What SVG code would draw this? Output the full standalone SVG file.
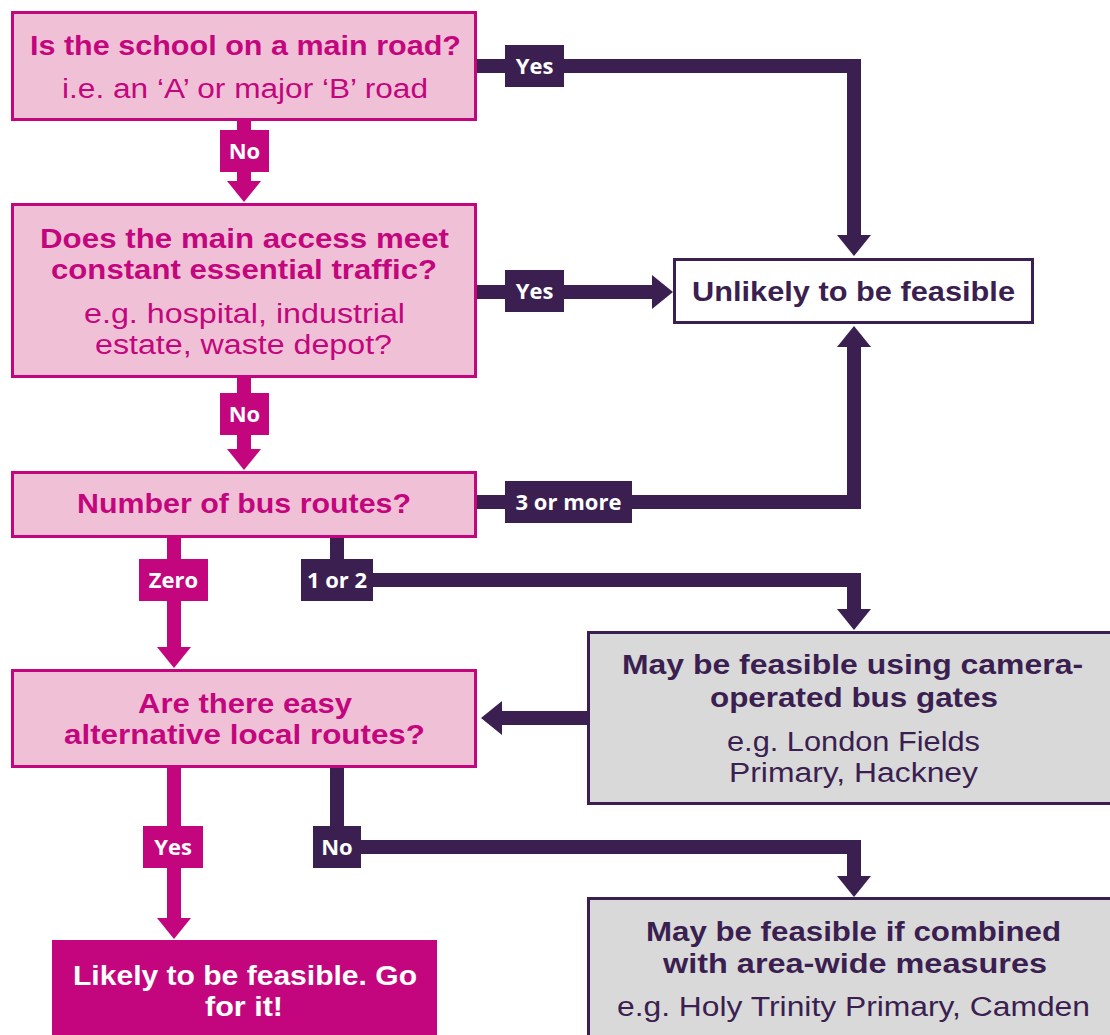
<svg xmlns="http://www.w3.org/2000/svg" width="1110" height="1035" viewBox="0 0 1110 1035">
<defs>
<style>
.q{fill:#f0c1d6;stroke:#c4067e;stroke-width:3}
.g{fill:#d9d9d9;stroke:#3a1f50;stroke-width:3}
.w{fill:#ffffff;stroke:#3a1f50;stroke-width:3}
.t{font-family:"Liberation Sans",Arial,sans-serif;text-anchor:middle;font-size:27px;font-weight:700}
.r{font-weight:400}
.m{fill:#c4067e}
.p{fill:#3a1f50}
.wt{fill:#ffffff}
.lm{stroke:#c4067e;stroke-width:14;fill:none}
.lp{stroke:#3a1f50;stroke-width:14;fill:none}
.lbl{font-family:"Open Sans","Liberation Sans",sans-serif;font-weight:700;font-size:22px;fill:#ffffff;text-anchor:middle}
</style>
<marker id="am" markerUnits="userSpaceOnUse" markerWidth="22" markerHeight="36" viewBox="0 -18 22 36" refX="0" refY="0" orient="auto"><path d="M0,-17 L21,0 L0,17 z" fill="#c4067e"/></marker>
<marker id="ap" markerUnits="userSpaceOnUse" markerWidth="22" markerHeight="36" viewBox="0 -18 22 36" refX="0" refY="0" orient="auto"><path d="M0,-17 L21,0 L0,17 z" fill="#3a1f50"/></marker>
</defs>
<rect width="1110" height="1035" fill="#ffffff"/>
<g id="connectors">
<path class="lp" d="M477,66 H854 V235" marker-end="url(#ap)"/>
<path class="lp" d="M477,292 H652" marker-end="url(#ap)"/>
<path class="lm" d="M244,121 V181" marker-end="url(#am)"/>
<path class="lm" d="M244,378 V449" marker-end="url(#am)"/>
<path class="lp" d="M477,502 H854 V347" marker-end="url(#ap)"/>
<path class="lm" d="M174,537 V647" marker-end="url(#am)"/>
<path class="lp" d="M337,537 V580 H854 V609" marker-end="url(#ap)"/>
<path class="lp" d="M588,718 H502" marker-end="url(#ap)"/>
<path class="lm" d="M174,768 V918" marker-end="url(#am)"/>
<path class="lp" d="M337,768 V847 H854 V876" marker-end="url(#ap)"/>
<rect x="505" y="45" width="59" height="42" class="p"/><text x="534.5" y="74" class="lbl">Yes</text>
<rect x="505" y="270" width="59" height="42" class="p"/><text x="534.5" y="299" class="lbl">Yes</text>
<rect x="220" y="130" width="49" height="42" class="m"/><text x="244.5" y="159" class="lbl">No</text>
<rect x="220" y="393" width="49" height="42" class="m"/><text x="244.5" y="422" class="lbl">No</text>
<rect x="505" y="481" width="127" height="42" class="p"/><text x="568.5" y="510" class="lbl">3 or more</text>
<rect x="139" y="559" width="69" height="42" class="m"/><text x="173.5" y="588" class="lbl">Zero</text>
<rect x="301" y="559" width="72" height="42" class="p"/><text x="337" y="588" class="lbl">1 or 2</text>
<rect x="143" y="826" width="60" height="42" class="m"/><text x="173" y="855" class="lbl">Yes</text>
<rect x="313" y="826" width="48" height="42" class="p"/><text x="337" y="855" class="lbl">No</text>
</g>
<g id="n1">
<rect x="12.5" y="12.5" width="463" height="107" class="q"/>
<text x="245.5" y="55" class="t m" textLength="431" lengthAdjust="spacingAndGlyphs">Is the school on a main road?</text>
<text x="245" y="98" class="t r m" textLength="366" lengthAdjust="spacingAndGlyphs">i.e. an ‘A’ or major ‘B’ road</text>
</g>
<g id="n2">
<rect x="12.5" y="204.5" width="463" height="172" class="q"/>
<text x="244.5" y="248" class="t m" textLength="409" lengthAdjust="spacingAndGlyphs">Does the main access meet</text>
<text x="244" y="279" class="t m" textLength="386" lengthAdjust="spacingAndGlyphs">constant essential traffic?</text>
<text x="244.5" y="323" class="t r m" textLength="321" lengthAdjust="spacingAndGlyphs">e.g. hospital, industrial</text>
<text x="243.5" y="354" class="t r m" textLength="297" lengthAdjust="spacingAndGlyphs">estate, waste depot?</text>
</g>
<g id="n3">
<rect x="674.5" y="259.5" width="358" height="63" class="w"/>
<text x="853.5" y="301" class="t p" textLength="323" lengthAdjust="spacingAndGlyphs">Unlikely to be feasible</text>
</g>
<g id="n4">
<rect x="12.5" y="472.5" width="463" height="64" class="q"/>
<text x="244" y="513" class="t m" textLength="334" lengthAdjust="spacingAndGlyphs">Number of bus routes?</text>
</g>
<g id="n5">
<rect x="12.5" y="670.5" width="463" height="96" class="q"/>
<text x="245" y="713" class="t m" textLength="214" lengthAdjust="spacingAndGlyphs">Are there easy</text>
<text x="244.5" y="744" class="t m" textLength="361" lengthAdjust="spacingAndGlyphs">alternative local routes?</text>
</g>
<g id="n6">
<rect x="588.5" y="632.5" width="525" height="171" class="g"/>
<text x="852.5" y="674" class="t p" textLength="461" lengthAdjust="spacingAndGlyphs">May be feasible using camera-</text>
<text x="854" y="707" class="t p" textLength="288" lengthAdjust="spacingAndGlyphs">operated bus gates</text>
<text x="853.5" y="751" class="t r p" textLength="253" lengthAdjust="spacingAndGlyphs">e.g. London Fields</text>
<text x="853.5" y="782" class="t r p" textLength="249" lengthAdjust="spacingAndGlyphs">Primary, Hackney</text>
</g>
<g id="n7">
<rect x="52" y="940" width="385" height="100" fill="#c4067e"/>
<text x="245" y="985" class="t wt" textLength="344" lengthAdjust="spacingAndGlyphs">Likely to be feasible. Go</text>
<text x="244" y="1016" class="t wt" textLength="78" lengthAdjust="spacingAndGlyphs">for it!</text>
</g>
<g id="n8">
<rect x="588.5" y="898.5" width="525" height="140" class="g"/>
<text x="853.5" y="941" class="t p" textLength="415" lengthAdjust="spacingAndGlyphs">May be feasible if combined</text>
<text x="855" y="973" class="t p" textLength="384" lengthAdjust="spacingAndGlyphs">with area-wide measures</text>
<text x="853.5" y="1016" class="t r p" textLength="473" lengthAdjust="spacingAndGlyphs">e.g. Holy Trinity Primary, Camden</text>
</g>
</svg>
